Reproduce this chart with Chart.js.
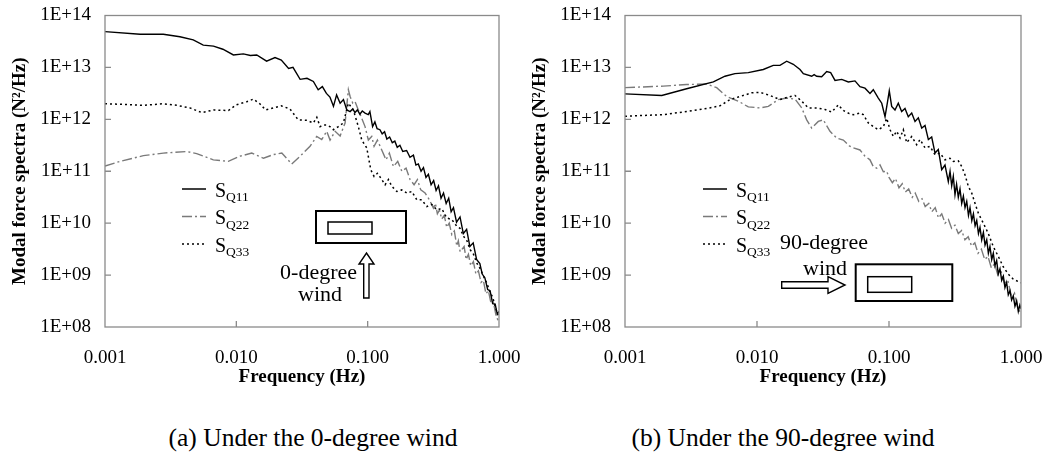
<!DOCTYPE html>
<html><head><meta charset="utf-8">
<script src="https://cdn.jsdelivr.net/npm/chart.js@4.4.1/dist/chart.umd.min.js"></script>
<style>
html,body{margin:0;padding:0;background:#fff;}
#wrap{position:relative;width:1052px;height:456px;overflow:hidden;background:#fff;}
canvas{position:absolute;top:0;}
.cap{position:absolute;top:425px;font-family:"Liberation Serif","Times New Roman",serif;font-size:25.5px;line-height:1;color:#000;white-space:nowrap;transform:translateX(-50%);}
</style></head>
<body>
<div id="wrap">
<canvas id="cA" width="530" height="400" style="left:0px"></canvas>
<canvas id="cB" width="532" height="400" style="left:520px"></canvas>
<div class="cap" style="left:313px">(a) Under the 0-degree wind</div>
<div class="cap" style="left:783px">(b) Under the 90-degree wind</div>
</div>
<script>
// ---- axis ticks ----
const yTickValues = [1e8,1e9,1e10,1e11,1e12,1e13,1e14];
const yTickLabels = ['1E+08','1E+09','1E+10','1E+11','1E+12','1E+13','1E+14'];
const xTickValues = [0.001,0.01,0.1,1];
const xTickLabels = ['0.001','0.010','0.100','1.000'];
const seriesNames = ['Q11','Q22','Q33'];

// ---- data: [frequency (Hz), log10 of modal force spectrum (N^2/Hz)] ----
// (a) 0-degree wind
const zeroSQ11 = [[0.001,13.69],[0.00185,13.64],[0.00278,13.64],[0.00372,13.59],[0.0047,13.53],[0.0056,13.43],[0.0067,13.41],[0.0079,13.35],[0.0095,13.24],[0.0113,13.26],[0.0128,13.23],[0.0143,13.24],[0.017,13.12],[0.0197,13.19],[0.022,13.14],[0.025,12.98],[0.027,13.00],[0.0306,12.77],[0.0345,12.79],[0.0386,12.73],[0.042,12.57],[0.0452,12.63],[0.0485,12.50],[0.0516,12.43],[0.0549,12.25],[0.058,12.47],[0.0617,12.31],[0.0654,12.38],[0.0694,12.18],[0.0735,12.15],[0.077,12.20],[0.080,12.13],[0.0835,12.18],[0.0872,12.10],[0.091,12.16],[0.0955,12.12],[0.101,12.09],[0.104,12.15],[0.109,11.86],[0.1135,11.95],[0.118,11.82],[0.124,11.80],[0.129,11.72],[0.1345,11.76],[0.14,11.62],[0.147,11.66],[0.154,11.55],[0.161,11.58],[0.168,11.46],[0.176,11.50],[0.185,11.38],[0.198,11.40],[0.21,11.27],[0.223,11.31],[0.233,11.12],[0.243,11.14],[0.255,11.00],[0.266,11.07],[0.278,10.88],[0.29,10.94],[0.304,10.74],[0.318,10.82],[0.332,10.63],[0.346,10.72],[0.362,10.48],[0.378,10.58],[0.396,10.38],[0.414,10.48],[0.432,10.22],[0.45,10.30],[0.475,10.02],[0.505,10.12],[0.535,9.80],[0.567,9.88],[0.60,9.55],[0.636,9.62],[0.675,9.30],[0.715,9.22],[0.745,9.02],[0.78,8.95],[0.82,8.72],[0.855,8.70],[0.895,8.45],[0.935,8.44],[0.97,8.25],[1.0,8.30]];
const zeroSQ22 = [[0.001,11.10],[0.0013,11.19],[0.00196,11.30],[0.00278,11.35],[0.00419,11.38],[0.00499,11.34],[0.00668,11.22],[0.00869,11.19],[0.01067,11.29],[0.0131,11.35],[0.0161,11.25],[0.0191,11.32],[0.0222,11.35],[0.0264,11.14],[0.0306,11.29],[0.0364,11.48],[0.0409,11.67],[0.0447,11.61],[0.0488,11.77],[0.0517,11.60],[0.0565,11.77],[0.0617,11.68],[0.0673,11.93],[0.0713,12.57],[0.0735,12.44],[0.0771,12.31],[0.0802,12.34],[0.0849,12.18],[0.0902,12.02],[0.0955,11.86],[0.1012,11.60],[0.1074,11.67],[0.1119,11.48],[0.1186,11.60],[0.1280,11.41],[0.1380,11.22],[0.1463,11.35],[0.1570,11.09],[0.1694,11.19],[0.1820,11.00],[0.1960,11.06],[0.2103,10.84],[0.2256,10.74],[0.2392,10.84],[0.2537,10.64],[0.2737,10.58],[0.2951,10.45],[0.3165,10.29],[0.328,10.38],[0.3395,10.18],[0.352,10.25],[0.3664,10.08],[0.383,10.15],[0.3999,9.92],[0.418,10.00],[0.4372,9.78],[0.457,9.85],[0.4770,9.56],[0.49,9.66],[0.5057,9.45],[0.5425,9.55],[0.563,9.30],[0.5848,9.40],[0.61,9.18],[0.6384,9.26],[0.667,9.02],[0.6969,9.08],[0.73,8.86],[0.7607,8.90],[0.795,8.64],[0.8304,8.70],[0.87,8.45],[0.9065,8.48],[0.95,8.22],[1.0,8.08]];
const zeroSQ33 = [[0.001,12.30],[0.0013,12.29],[0.00196,12.27],[0.00278,12.30],[0.00351,12.27],[0.00443,12.22],[0.00546,12.13],[0.0067,12.18],[0.0087,12.17],[0.0100,12.28],[0.0120,12.34],[0.0135,12.39],[0.0151,12.30],[0.0167,12.18],[0.0191,12.22],[0.0220,12.26],[0.0256,12.20],[0.0296,11.99],[0.0345,11.98],[0.0386,11.93],[0.0410,12.04],[0.0434,11.86],[0.0460,11.89],[0.0488,11.89],[0.0516,11.86],[0.0548,11.80],[0.0598,11.86],[0.0653,11.93],[0.0713,12.31],[0.0778,12.18],[0.0849,11.86],[0.0902,11.60],[0.0984,11.45],[0.1056,11.03],[0.1119,10.90],[0.1186,10.96],[0.1258,10.87],[0.1358,10.74],[0.1439,10.84],[0.1527,10.71],[0.1667,10.61],[0.1820,10.64],[0.1986,10.58],[0.2167,10.61],[0.2366,10.45],[0.2582,10.45],[0.2818,10.32],[0.3075,10.36],[0.3357,10.26],[0.3664,10.28],[0.3999,10.10],[0.4372,10.07],[0.477,9.94],[0.505,9.90],[0.536,9.75],[0.57,9.66],[0.603,9.49],[0.64,9.40],[0.678,9.23],[0.72,9.12],[0.761,8.98],[0.81,8.84],[0.855,8.66],[0.895,8.58],[0.933,8.40],[1.0,8.18]];
// (b) 90-degree wind
const ninetySQ11 = [[0.001,12.49],[0.0019,12.46],[0.00293,12.59],[0.00467,12.72],[0.00572,12.83],[0.00681,12.88],[0.00859,12.90],[0.01116,12.96],[0.01328,13.04],[0.01493,13.04],[0.01679,13.12],[0.01884,13.06],[0.02117,12.96],[0.02244,12.88],[0.02596,12.83],[0.02710,12.86],[0.02832,12.83],[0.0309,12.82],[0.03373,12.92],[0.03615,12.90],[0.03899,12.75],[0.04385,12.77],[0.04920,12.72],[0.05525,12.74],[0.06026,12.63],[0.06577,12.60],[0.07178,12.50],[0.07603,12.57],[0.08299,12.41],[0.08810,12.31],[0.09333,12.05],[0.0971,12.31],[0.1005,12.55],[0.1048,12.25],[0.1110,12.18],[0.1176,12.31],[0.1247,12.15],[0.1322,12.21],[0.1400,12.05],[0.1486,12.12],[0.1574,11.96],[0.1668,12.03],[0.1770,11.83],[0.1875,11.88],[0.1987,11.61],[0.2106,11.66],[0.2231,11.35],[0.2363,11.42],[0.2508,11.03],[0.2656,11.12],[0.2814,10.80],[0.290,11.00],[0.2985,10.72],[0.307,10.90],[0.3162,10.55],[0.325,10.75],[0.3350,10.50],[0.345,10.66],[0.3556,10.38],[0.366,10.52],[0.3767,10.30],[0.388,10.42],[0.400,10.15],[0.411,10.30],[0.424,10.05],[0.436,10.18],[0.449,9.95],[0.462,10.05],[0.476,9.80],[0.489,9.92],[0.504,9.68],[0.519,9.82],[0.534,9.58],[0.550,9.68],[0.566,9.42],[0.582,9.55],[0.600,9.30],[0.617,9.42],[0.635,9.18],[0.654,9.28],[0.673,9.02],[0.693,9.12],[0.714,8.90],[0.735,8.98],[0.756,8.76],[0.778,8.86],[0.801,8.62],[0.825,8.70],[0.849,8.52],[0.874,8.60],[0.90,8.40],[0.927,8.50],[0.954,8.30],[0.98,8.42],[1.0,8.35]];
const ninetySQ22 = [[0.001,12.61],[0.00195,12.64],[0.00293,12.67],[0.00416,12.68],[0.00495,12.61],[0.00589,12.44],[0.00722,12.35],[0.00859,12.24],[0.01054,12.22],[0.01218,12.25],[0.01449,12.38],[0.01679,12.41],[0.01941,12.39],[0.02182,12.22],[0.02380,11.99],[0.02596,11.83],[0.02912,11.96],[0.03178,11.99],[0.03573,11.77],[0.04012,11.64],[0.04508,11.60],[0.05002,11.49],[0.05370,11.45],[0.06026,11.41],[0.06577,11.29],[0.07178,11.22],[0.07603,11.09],[0.08070,11.06],[0.08551,11.12],[0.09057,10.99],[0.0961,11.00],[0.100,10.88],[0.106,10.78],[0.112,10.86],[0.119,10.68],[0.126,10.76],[0.133,10.60],[0.141,10.66],[0.150,10.50],[0.158,10.58],[0.168,10.42],[0.178,10.47],[0.188,10.32],[0.200,10.38],[0.211,10.22],[0.224,10.30],[0.237,10.10],[0.251,10.18],[0.266,10.00],[0.282,10.07],[0.298,9.90],[0.316,9.96],[0.335,9.80],[0.355,9.86],[0.376,9.68],[0.398,9.74],[0.422,9.56],[0.447,9.62],[0.473,9.42],[0.501,9.50],[0.531,9.30],[0.562,9.36],[0.596,9.14],[0.631,9.22],[0.668,9.00],[0.708,9.06],[0.750,8.84],[0.794,8.90],[0.841,8.62],[0.891,8.66],[0.944,8.38],[1.0,8.24]];
const ninetySQ33 = [[0.001,12.06],[0.00195,12.09],[0.00293,12.15],[0.00416,12.21],[0.00524,12.26],[0.00624,12.38],[0.00722,12.43],[0.00912,12.51],[0.01054,12.52],[0.01254,12.46],[0.01493,12.38],[0.01727,12.43],[0.01941,12.46],[0.02182,12.35],[0.02448,12.22],[0.02832,12.22],[0.03275,12.19],[0.03681,12.14],[0.04130,12.28],[0.04508,12.17],[0.05002,12.11],[0.05370,12.09],[0.06026,12.12],[0.06383,12.09],[0.06970,11.93],[0.07603,11.86],[0.08299,11.80],[0.09057,11.86],[0.0961,12.02],[0.1018,11.80],[0.1079,11.67],[0.1144,11.77],[0.1212,11.64],[0.1284,11.80],[0.1361,11.55],[0.1486,11.67],[0.1622,11.51],[0.1718,11.61],[0.1875,11.45],[0.2045,11.48],[0.2231,11.32],[0.2434,11.35],[0.2656,11.22],[0.2897,11.25],[0.3070,11.19],[0.3350,11.20],[0.3556,11.09],[0.3767,10.93],[0.3990,10.71],[0.4234,10.58],[0.4487,10.38],[0.4753,10.19],[0.5183,10.00],[0.5654,9.80],[0.6166,9.55],[0.6727,9.36],[0.7338,9.16],[0.8005,9.02],[0.8741,8.92],[1.0,8.85]];

const SERIF = '"Liberation Serif","Times New Roman",serif';
const styles = [
  {color:'#000000', dash:[], width:1.4, order:0},
  {color:'#7a7a7a', dash:[10,3,2,3], width:1.4, order:2},
  {color:'#000000', dash:[2,3], width:1.5, order:1}
];

function toPoints(arr){ return arr.map(p => ({x:p[0], y:Math.pow(10, p[1])})); }

function overlay(o){
  return {
    id:'overlay',
    afterDraw(chart){
      const ctx = chart.ctx, a = chart.chartArea;
      const xs = chart.scales.x, ys = chart.scales.y;
      ctx.save();
      ctx.strokeStyle = '#8a8a8a'; ctx.lineWidth = 1.3; ctx.setLineDash([]);
      ctx.strokeRect(a.left, a.top, a.right - a.left, a.bottom - a.top);
      ctx.beginPath();
      yTickValues.slice(1, -1).forEach(v => { const y = ys.getPixelForValue(v); ctx.moveTo(a.left, y); ctx.lineTo(a.left + 6, y); });
      xTickValues.slice(1, -1).forEach(v => { const x = xs.getPixelForValue(v); ctx.moveTo(x, a.bottom); ctx.lineTo(x, a.bottom - 6); });
      ctx.stroke();
      chart.data.datasets.forEach((ds, i) => {
        const y = o.legY + i * 27.5;
        ctx.beginPath(); ctx.strokeStyle = ds.borderColor; ctx.lineWidth = 1.5;
        ctx.setLineDash(ds.borderDash || []);
        ctx.moveTo(o.legX, y); ctx.lineTo(o.legX + 24, y); ctx.stroke();
        ctx.setLineDash([]);
        ctx.fillStyle = '#000'; ctx.textAlign = 'left'; ctx.textBaseline = 'alphabetic';
        ctx.font = '20px ' + SERIF;
        ctx.fillText('S', o.legX + 33, y + 7.5);
        const w = ctx.measureText('S').width;
        ctx.font = '13.5px ' + SERIF;
        ctx.fillText(seriesNames[i], o.legX + 33 + w, y + 12);
      });
      ctx.strokeStyle = '#000'; ctx.lineWidth = 2;
      ctx.strokeRect(o.outer[0], o.outer[1], o.outer[2], o.outer[3]);
      ctx.lineWidth = 1.5;
      ctx.strokeRect(o.inner[0], o.inner[1], o.inner[2], o.inner[3]);
      ctx.beginPath();
      o.arrow.forEach((p, k) => k ? ctx.lineTo(p[0], p[1]) : ctx.moveTo(p[0], p[1]));
      ctx.closePath(); ctx.fillStyle = '#fff'; ctx.fill();
      ctx.lineWidth = 1.4; ctx.strokeStyle = '#000'; ctx.stroke();
      ctx.fillStyle = '#000'; ctx.font = '22px ' + SERIF;
      o.texts.forEach(t => { ctx.textAlign = t[3]; ctx.fillText(t[0], t[1], t[2]); });
      ctx.restore();
    }
  };
}

function makeChart(id, series, o){
  const datasets = series.map((s, i) => ({
    label: 'S' + seriesNames[i],
    data: toPoints(s),
    borderColor: styles[i].color,
    borderDash: styles[i].dash,
    borderWidth: styles[i].width,
    order: styles[i].order,
    pointRadius: 0, tension: 0, fill: false
  }));
  return new Chart(document.getElementById(id), {
    type: 'line',
    data: {datasets},
    options: {
      responsive: false, animation: false, devicePixelRatio: 1,
      layout: {padding: {top: 15.5, right: 31, left: 0, bottom: 0}},
      plugins: {legend: {display: false}, tooltip: {enabled: false}},
      scales: {
        x: {
          type: 'logarithmic', min: 0.001, max: 1, position: 'bottom',
          grid: {display: false, drawTicks: false}, border: {display: false},
          afterBuildTicks: s => { s.ticks = xTickValues.map(v => ({value: v})); },
          afterFit: s => { s.height = 73; s.paddingLeft = 0; s.paddingRight = 0; },
          ticks: {color: '#000', font: {family: SERIF, size: 19}, padding: 20, autoSkip: false, maxRotation: 0,
            callback: (v, i) => xTickLabels[i]},
          title: {display: true, text: 'Frequency (Hz)', color: '#000', font: {family: SERIF, size: 19, weight: 'bold'}, padding: {top: 0, bottom: 12}}
        },
        y: {
          type: 'logarithmic', min: 1e8, max: 1e14,
          grid: {display: false, drawTicks: false}, border: {display: false},
          afterBuildTicks: s => { s.ticks = yTickValues.map(v => ({value: v})); },
          afterFit: s => { s.width = 105; s.paddingTop = 0; s.paddingBottom = 0; },
          ticks: {color: '#000', font: {family: SERIF, size: 19}, padding: 14, autoSkip: false,
            callback: (v, i) => yTickLabels[i]},
          title: {display: true, text: 'Modal force spectra (N²/Hz)', color: '#000', font: {family: SERIF, size: 19, weight: 'bold'}, padding: {top: 9, bottom: 0}}
        }
      }
    },
    plugins: [overlay(o)]
  });
}

makeChart('cA', [zeroSQ11, zeroSQ22, zeroSQ33], {
  legX: 182, legY: 189,
  outer: [316, 211, 90, 32], inner: [328, 222, 44, 12],
  arrow: [[363.7,298],[363.7,264],[359,264],[366.5,253],[374,264],[369,264],[369,298]],
  texts: [['0-degree', 357, 278.5, 'right'], ['wind', 320, 300.7, 'center']]
});
makeChart('cB', [ninetySQ11, ninetySQ22, ninetySQ33], {
  legX: 183, legY: 189,
  outer: [335.7, 264.3, 96.6, 36.7], inner: [347.7, 276.7, 44, 15.6],
  arrow: [[261.7,281.7],[308,281.7],[308,276.7],[325,285],[308,293.3],[308,288.3],[261.7,288.3]],
  texts: [['90-degree', 260, 248.5, 'left'], ['wind', 305, 275, 'center']]
});
</script>
</body></html>
